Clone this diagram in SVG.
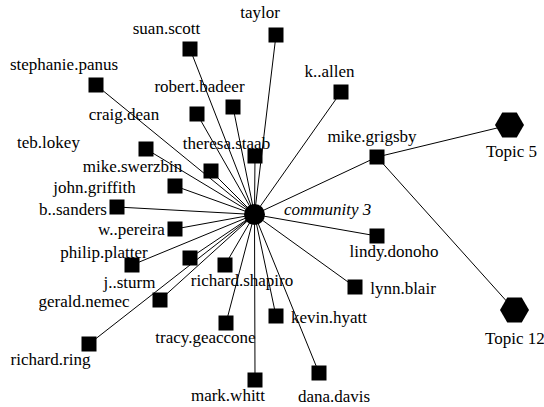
<svg xmlns="http://www.w3.org/2000/svg" width="544" height="407" viewBox="0 0 544 407">
<style>
.e{stroke:#000;stroke-width:1;fill:none}
.n{fill:#000}
.i{font-style:italic}
.s{text-anchor:start}
</style>
<defs>
<rect id="sqr" x="-7.5" y="-7.5" width="15" height="15"/>
<polygon id="hex" points="-14.5,0 -7.25,-12.5 7.25,-12.5 14.5,0 7.25,12.5 -7.25,12.5"/>
</defs>
<rect width="544" height="407" fill="#fff"/>
<g id="connectors" class="e">
<line x1="254.5" y1="214.5" x2="190" y2="49"/>
<line x1="254.5" y1="214.5" x2="276" y2="35"/>
<line x1="254.5" y1="214.5" x2="96" y2="85"/>
<line x1="254.5" y1="214.5" x2="233" y2="107"/>
<line x1="254.5" y1="214.5" x2="197" y2="114"/>
<line x1="254.5" y1="214.5" x2="341" y2="92"/>
<line x1="254.5" y1="214.5" x2="377" y2="157"/>
<line x1="254.5" y1="214.5" x2="255" y2="156"/>
<line x1="254.5" y1="214.5" x2="146" y2="149"/>
<line x1="254.5" y1="214.5" x2="211" y2="171"/>
<line x1="254.5" y1="214.5" x2="175" y2="186"/>
<line x1="254.5" y1="214.5" x2="117" y2="207"/>
<line x1="254.5" y1="214.5" x2="175" y2="229"/>
<line x1="254.5" y1="214.5" x2="132" y2="265"/>
<line x1="254.5" y1="214.5" x2="190" y2="258"/>
<line x1="254.5" y1="214.5" x2="225" y2="265"/>
<line x1="254.5" y1="214.5" x2="160" y2="300"/>
<line x1="254.5" y1="214.5" x2="89" y2="344"/>
<line x1="254.5" y1="214.5" x2="226" y2="323"/>
<line x1="254.5" y1="214.5" x2="255" y2="380"/>
<line x1="254.5" y1="214.5" x2="319" y2="373"/>
<line x1="254.5" y1="214.5" x2="276" y2="316"/>
<line x1="254.5" y1="214.5" x2="355" y2="287"/>
<line x1="254.5" y1="214.5" x2="377" y2="236"/>
<line x1="377" y1="157" x2="509.5" y2="125"/>
<line x1="377" y1="157" x2="514.5" y2="310"/>
</g>
<g id="nodes" class="n" font-family="Liberation Serif, Times New Roman, serif" font-size="17" text-anchor="middle">
<g id="community3"><circle cx="254.5" cy="214.5" r="10.5"/><text class="i s" x="284" y="215">community 3</text></g>
<g id="topic5"><use href="#hex" x="509.5" y="125"/><text x="511.5" y="157">Topic 5</text></g>
<g id="topic12"><use href="#hex" x="514.5" y="310"/><text class="s" x="485" y="344">Topic 12</text></g>
<g id="suan.scott"><use href="#sqr" x="190" y="49"/><text x="166.5" y="34">suan.scott</text></g>
<g id="taylor"><use href="#sqr" x="276" y="35"/><text x="260" y="18">taylor</text></g>
<g id="stephanie.panus"><use href="#sqr" x="96" y="85"/><text x="64" y="70">stephanie.panus</text></g>
<g id="robert.badeer"><use href="#sqr" x="233" y="107"/><text x="199.5" y="92">robert.badeer</text></g>
<g id="craig.dean"><use href="#sqr" x="197" y="114"/><text x="124" y="120">craig.dean</text></g>
<g id="k..allen"><use href="#sqr" x="341" y="92"/><text x="329.5" y="77">k..allen</text></g>
<g id="mike.grigsby"><use href="#sqr" x="377" y="157"/><text x="372" y="142">mike.grigsby</text></g>
<g id="theresa.staab"><use href="#sqr" x="255" y="156"/><text x="226.5" y="149">theresa.staab</text></g>
<g id="teb.lokey"><use href="#sqr" x="146" y="149"/><text x="48.5" y="148">teb.lokey</text></g>
<g id="mike.swerzbin"><use href="#sqr" x="211" y="171"/><text x="132.5" y="172">mike.swerzbin</text></g>
<g id="john.griffith"><use href="#sqr" x="175" y="186"/><text x="94.5" y="193">john.griffith</text></g>
<g id="b..sanders"><use href="#sqr" x="117" y="207"/><text x="73" y="215">b..sanders</text></g>
<g id="w..pereira"><use href="#sqr" x="175" y="229"/><text x="131.5" y="235">w..pereira</text></g>
<g id="philip.platter"><use href="#sqr" x="132" y="265"/><text x="104" y="258">philip.platter</text></g>
<g id="j..sturm"><use href="#sqr" x="190" y="258"/><text x="129.5" y="288">j..sturm</text></g>
<g id="richard.shapiro"><use href="#sqr" x="225" y="265"/><text x="242" y="286">richard.shapiro</text></g>
<g id="gerald.nemec"><use href="#sqr" x="160" y="300"/><text x="84" y="307">gerald.nemec</text></g>
<g id="richard.ring"><use href="#sqr" x="89" y="344"/><text x="50.5" y="365">richard.ring</text></g>
<g id="tracy.geaccone"><use href="#sqr" x="226" y="323"/><text x="205.5" y="343">tracy.geaccone</text></g>
<g id="mark.whitt"><use href="#sqr" x="255" y="380"/><text x="228" y="401">mark.whitt</text></g>
<g id="dana.davis"><use href="#sqr" x="319" y="373"/><text x="334" y="402">dana.davis</text></g>
<g id="kevin.hyatt"><use href="#sqr" x="276" y="316"/><text x="329" y="323">kevin.hyatt</text></g>
<g id="lynn.blair"><use href="#sqr" x="355" y="287"/><text x="403" y="294">lynn.blair</text></g>
<g id="lindy.donoho"><use href="#sqr" x="377" y="236"/><text x="394" y="257">lindy.donoho</text></g>
</g>
</svg>
